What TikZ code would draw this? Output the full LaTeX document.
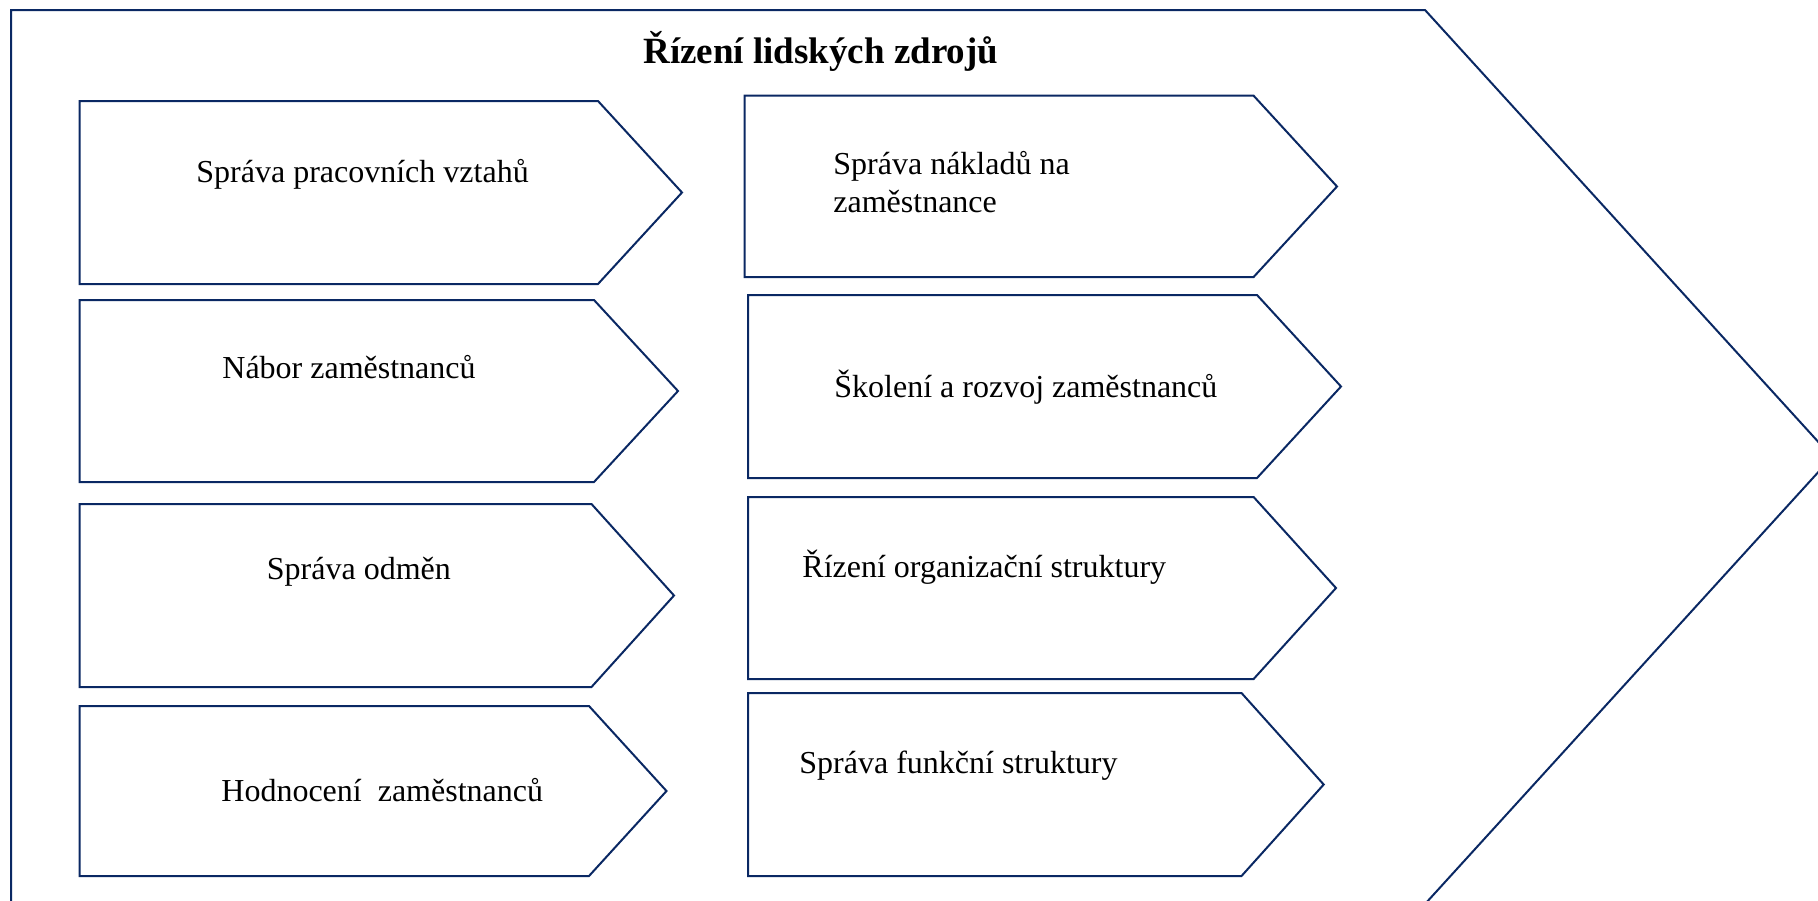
\documentclass[tikz,border=0pt]{standalone}
\usepackage{fontspec}
\setmainfont{Liberation Serif}
\definecolor{hrnavy}{HTML}{0A2863}
\tikzset{
  boxline/.style={draw=hrnavy, line width=1pt, line join=miter},
  lbl/.style={inner sep=0pt, anchor=base west, font=\fontsize{16}{19}\selectfont},
  ttl/.style={inner sep=0pt, anchor=base west, font=\fontsize{18.5}{22}\selectfont\bfseries}
}
\begin{document}
\begin{tikzpicture}[x=0.5pt,y=-0.5pt]
            \useasboundingbox (0,0) rectangle (1818,900);
            \clip (0,0) rectangle (1818,900);
            % outer arrow
            \draw[boxline] (11,10)-- (1425,10)-- (1832,457)-- (1425,904)-- (11,904)--cycle;
            \node (title) [ttl] at (643,63) {Řízení lidských zdrojů};
            % left column
            \draw[boxline] (79.5,101)-- (598,101)-- (682,192.5)-- (598,284)-- (79.5,284)--cycle;
            \node (vztahy) [lbl] at (196,182) {Správa pracovních vztahů};
            \draw[boxline] (79.5,300)-- (594,300)-- (678,391)-- (594,482)-- (79.5,482)--cycle;
            \node (nabor) [lbl] at (222,378) {Nábor zaměstnanců};
            \draw[boxline] (79.5,504)-- (591.5,504)-- (674,595.5)-- (591.5,687)-- (79.5,687)--cycle;
            \node (odmeny) [lbl] at (266.5,579) {Správa odměn};
            \draw[boxline] (79.5,706)-- (589,706)-- (666.5,791)-- (589,876)-- (79.5,876)--cycle;
            \node (hodnoceni) [lbl] at (221,801.7) {Hodnocení\ \ zaměstnanců};
            % right column
            \draw[boxline] (744.6,95.7)-- (1253.6,95.7)-- (1337,186.5)-- (1253.6,277)-- (744.6,277)--cycle;
            \node (naklady) [lbl] at (833,174) {Správa nákladů na};
            \node (naklady2) [lbl] at (833,212) {zaměstnance};
            \draw[boxline] (748,295)-- (1257,295)-- (1341,386.5)-- (1257,478)-- (748,478)--cycle;
            \node (skoleni) [lbl] at (834,397) {Školení a rozvoj zaměstnanců};
            \draw[boxline] (748,497)-- (1253.6,497)-- (1336,588)-- (1253.6,679)-- (748,679)--cycle;
            \node (organizace) [lbl] at (802,577) {Řízení organizační struktury};
            \draw[boxline] (748,693)-- (1241.5,693)-- (1323.7,784.5)-- (1241.5,876)-- (748,876)--cycle;
            \node (funkce) [lbl] at (799,773) {Správa funkční struktury};
        \end{tikzpicture}
\end{document}
